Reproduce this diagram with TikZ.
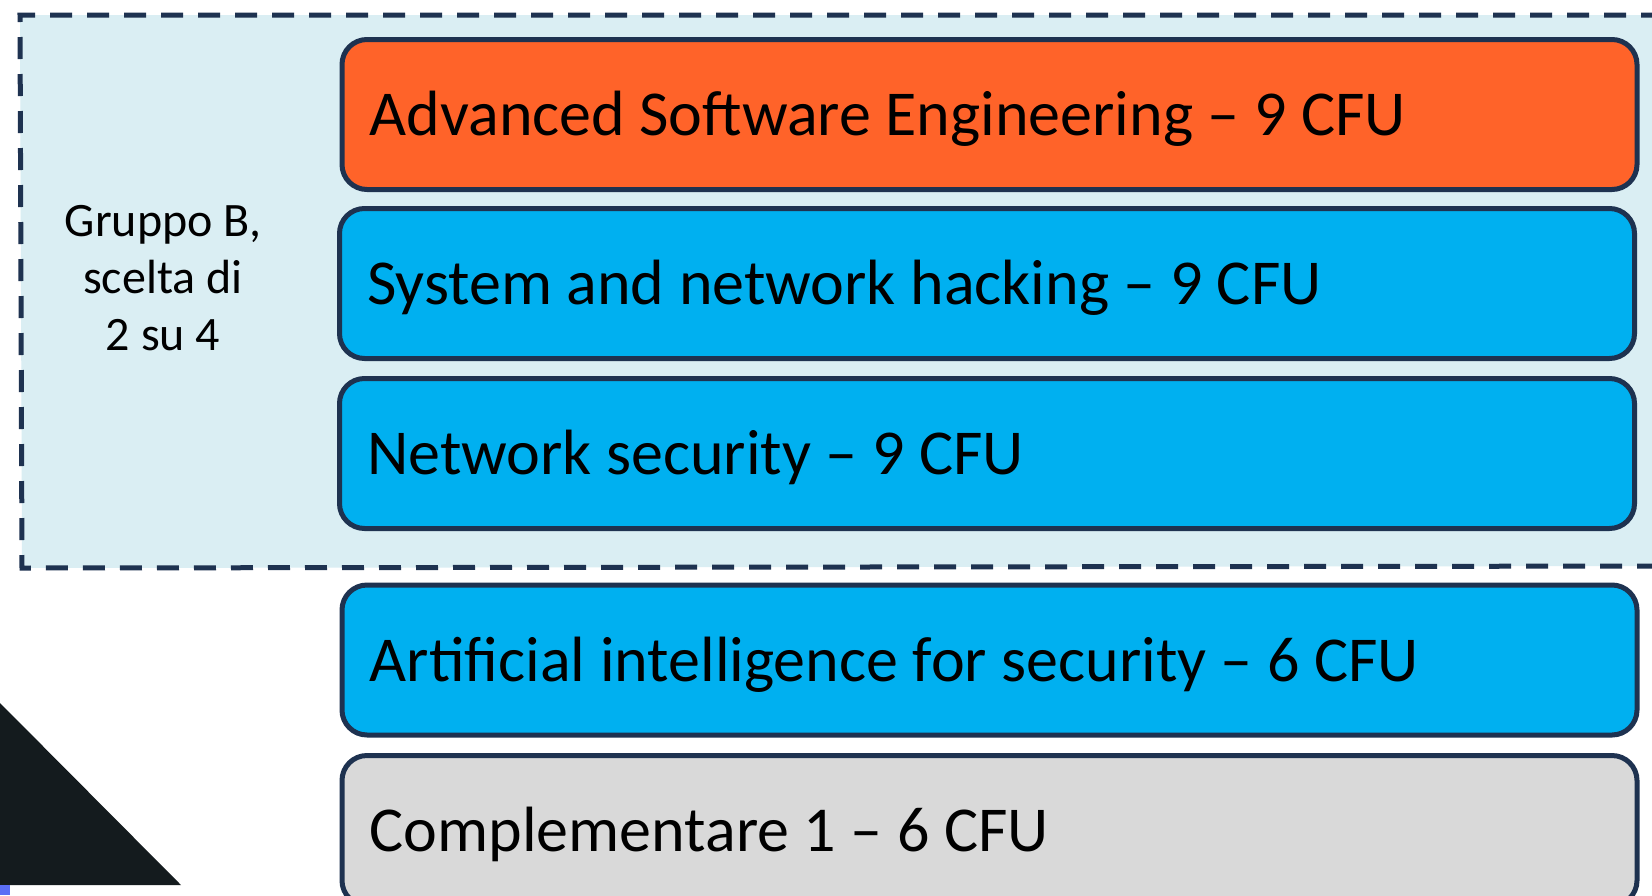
\documentclass[tikz,border=0pt]{standalone}
\usepackage{fontspec}
\setmainfont{Carlito}
\definecolor{navy}{HTML}{1E3250}
\definecolor{bgblue}{HTML}{DAEEF3}
\definecolor{orangebox}{HTML}{FF6329}
\definecolor{bluebox}{HTML}{00B0F0}
\definecolor{greybox}{HTML}{D9D9D9}
\definecolor{triblack}{HTML}{141B1E}
\definecolor{cornerblue}{HTML}{5B6EF5}
\tikzset{
  course/.style={draw=navy, line width=5pt, rounded corners=25pt,
    minimum width=1295pt, minimum height=150pt, inner sep=0pt, anchor=center},
  coursetext/.style={inner sep=0pt, anchor=base west,
    font=\fontsize{64}{76}\selectfont},
  groupline/.style={draw=navy, line width=5pt, dash pattern=on 22pt off 15pt},
  grouplabel/.style={align=center, font=\fontsize{48}{57}\selectfont}
}
\begin{document}
\begin{tikzpicture}[x=1pt,y=-1pt]
\useasboundingbox (0,0) rectangle (1652,895);
\fill[white] (0,0) rectangle (1652,895);
\fill[bgblue] (20,15) -- (1700,15) -- (1700,566) -- (22,568) -- cycle;
\draw[groupline] (1700,15) -- (20,15) -- (22,568) -- (1700,566);
\node[grouplabel] (lbl) at (163,278) {Gruppo B,\\scelta di\\2 su 4};
\node[course, fill=orangebox] (ase) at (989.5,114.5) {};
\node[coursetext] (ase-t) at ([xshift=30pt, yshift=-21pt]ase.west) {Advanced Software Engineering -- 9 CFU};
\node[course, fill=bluebox] (snh) at (987,283.5) {};
\node[coursetext] (snh-t) at ([xshift=30pt, yshift=-21pt]snh.west) {System and network hacking -- 9 CFU};
\node[course, fill=bluebox] (ns) at (987,453.5) {};
\node[coursetext] (ns-t) at ([xshift=30pt, yshift=-21pt]ns.west) {Network security -- 9 CFU};
\node[course, fill=bluebox] (ai) at (989.5,660) {};
\node[coursetext] (ai-t) at ([xshift=30pt, yshift=-21pt]ai.west) {Artificial intelligence for security -- 6 CFU};
\node[course, fill=greybox] (comp) at (989.5,830.5) {};
\node[coursetext] (comp-t) at ([xshift=30pt, yshift=-21pt]comp.west) {Complementare 1 -- 6 CFU};
\fill[triblack] (0,703) -- (181,885) -- (0,885) -- cycle;
\fill[cornerblue] (0,885) rectangle (10,895);
\end{tikzpicture}
\end{document}
